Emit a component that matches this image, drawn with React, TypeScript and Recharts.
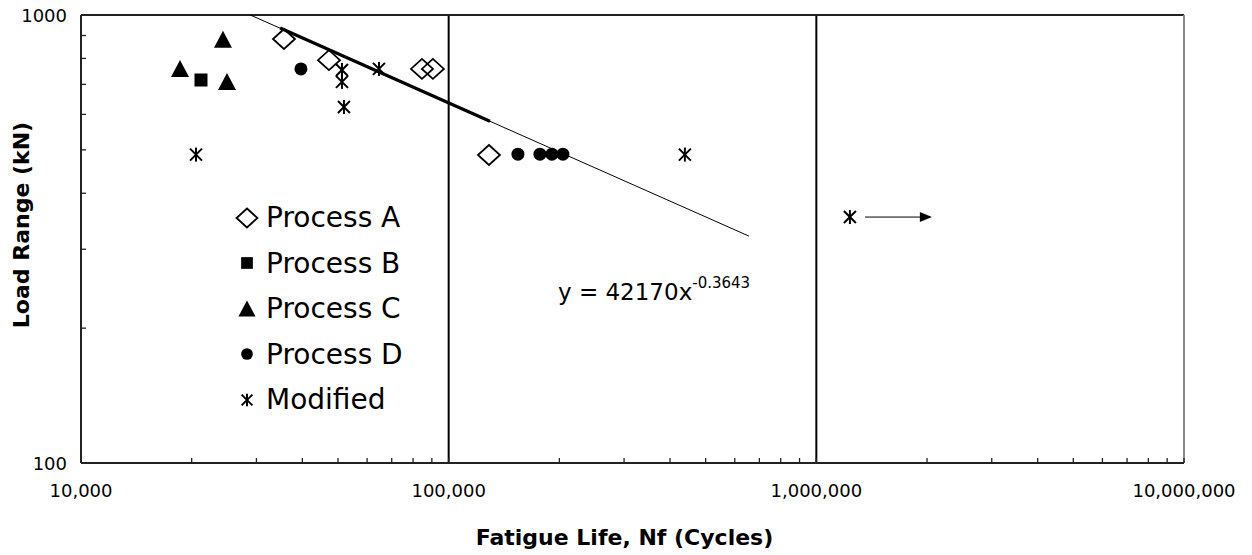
import React from 'react';
import { ScatterChart, Scatter, XAxis, YAxis, ReferenceLine, Legend } from 'recharts';

const FONT = '"DejaVu Sans", Verdana, sans-serif';

// ---- tick values ----
const xMajorTicks = [10000, 100000, 1000000, 10000000];
const xMinorTicks = [
  20000, 30000, 40000, 50000, 60000, 70000, 80000, 90000,
  200000, 300000, 400000, 500000, 600000, 700000, 800000, 900000,
  2000000, 3000000, 4000000, 5000000, 6000000, 7000000, 8000000, 9000000,
];
const yMajorTicks = [100, 1000];
const yMinorTicks = [200, 300, 400, 500, 600, 700, 800, 900];
const gridX = [100000, 1000000];

// ---- series (N = cycles, L = load range kN) ----
const processA = [
  { N: 35650, L: 884 },
  { N: 47250, L: 793 },
  { N: 84600, L: 758 },
  { N: 90600, L: 758 },
  { N: 128700, L: 487 },
];
const processB = [{ N: 21200, L: 716 }];
const processC = [
  { N: 18590, L: 758 },
  { N: 24330, L: 880 },
  { N: 24950, L: 709 },
];
const processD = [
  { N: 39650, L: 758 },
  { N: 154300, L: 489 },
  { N: 177100, L: 489 },
  { N: 190900, L: 489 },
  { N: 204500, L: 489 },
];
const modified = [
  { N: 20550, L: 488 },
  { N: 51260, L: 754 },
  { N: 51260, L: 709 },
  { N: 51900, L: 623 },
  { N: 64630, L: 758 },
  { N: 439000, L: 488 },
  { N: 1234000, L: 354 },
];
// power-law trendline endpoints
const trendLine = [
  { N: 28870, L: 1000 },
  { N: 655600, L: 321 },
];
const trendDense = [
  { N: 34800, L: 935 },
  { N: 129500, L: 579 },
];
// run-out arrow
const arrowLine = [
  { N: 1356000, L: 354 },
  { N: 1940000, L: 354 },
];
const arrowHead = [{ N: 2062000, L: 354 }];
const equationPoint = [{ N: 198300, L: 231 }];
const equationText = 'y = 42170x';
const equationExponent = '-0.3643';

const legendItems = [
  { name: 'Process A', shape: 'diamond' },
  { name: 'Process B', shape: 'square' },
  { name: 'Process C', shape: 'triangle' },
  { name: 'Process D', shape: 'circle' },
  { name: 'Modified', shape: 'star' },
];

// ---- marker drawings ----
function markerFor(kind: string, cx: number, cy: number, scale = 1) {
  const s = scale;
  if (kind === 'diamond') {
    return (
      <path
        d={`M${cx},${cy - 10 * s} L${cx + 11 * s},${cy} L${cx},${cy + 10 * s} L${cx - 11 * s},${cy} Z`}
        fill="none"
        stroke="#000"
        strokeWidth={1.8}
      />
    );
  }
  if (kind === 'square') {
    return <rect x={cx - 6.5 * s} y={cy - 6.5 * s} width={13 * s} height={13 * s} fill="#000" />;
  }
  if (kind === 'triangle') {
    return (
      <path
        d={`M${cx},${cy - 9 * s} L${cx + 9 * s},${cy + 8 * s} L${cx - 9 * s},${cy + 8 * s} Z`}
        fill="#000"
      />
    );
  }
  if (kind === 'circle') {
    return <circle cx={cx} cy={cy} r={6.5 * s} fill="#000" />;
  }
  // asterisk
  return (
    <g stroke="#000" strokeWidth={2} strokeLinecap="butt">
      <line x1={cx} y1={cy - 7 * s} x2={cx} y2={cy + 7 * s} />
      <line x1={cx - 6 * s} y1={cy - 6 * s} x2={cx + 6 * s} y2={cy + 6 * s} />
      <line x1={cx + 6 * s} y1={cy - 6 * s} x2={cx - 6 * s} y2={cy + 6 * s} />
    </g>
  );
}

const DiamondShape = (p: any) => markerFor('diamond', p.cx, p.cy);
const SquareShape = (p: any) => markerFor('square', p.cx, p.cy);
const TriangleShape = (p: any) => markerFor('triangle', p.cx, p.cy);
const CircleShape = (p: any) => markerFor('circle', p.cx, p.cy);
const StarShape = (p: any) => markerFor('star', p.cx, p.cy);
const EmptyShape = () => <g />;

const ArrowHeadShape = (p: any) => (
  <path d={`M${p.cx},${p.cy} L${p.cx - 12},${p.cy - 5} L${p.cx - 12},${p.cy + 5} Z`} fill="#000" />
);

const EquationShape = (p: any) => (
  <text x={p.cx} y={p.cy} fontFamily={FONT} fill="#000">
    <tspan fontSize={23}>{equationText}</tspan>
    <tspan fontSize={15} dy={-12}>{equationExponent}</tspan>
  </text>
);

// ---- ticks ----
const XTick = (props: any) => {
  const { x, y, payload } = props;
  const v = payload.value;
  const major = xMajorTicks.includes(v);
  return (
    <g>
      <line x1={x} x2={x} y1={y} y2={y - 5} stroke="#222" strokeWidth={1.3} />
      {major && (
        <text x={x} y={y + 34} textAnchor="middle" fontSize={18} fontFamily={FONT} fill="#000">
          {Number(v).toLocaleString('en-US')}
        </text>
      )}
    </g>
  );
};

const YTick = (props: any) => {
  const { x, y, payload } = props;
  const v = payload.value;
  const major = yMajorTicks.includes(v);
  return (
    <g>
      <line x1={x} x2={x + 5} y1={y} y2={y} stroke="#222" strokeWidth={1.3} />
      {major && (
        <text x={x - 14} y={y + 6.5} textAnchor="end" fontSize={18} fontFamily={FONT} fill="#000">
          {String(v)}
        </text>
      )}
    </g>
  );
};

const XTitle = (props: any) => {
  const vb = props.viewBox || { x: 81, y: 463, width: 1103, height: 92 };
  return (
    <text
      x={vb.x + vb.width / 2 - 8}
      y={vb.y + 82}
      textAnchor="middle"
      fontSize={22}
      fontWeight="bold"
      fontFamily={FONT}
      fill="#000"
    >
      Fatigue Life, Nf (Cycles)
    </text>
  );
};

const YTitle = (props: any) => {
  const vb = props.viewBox || { x: 0, y: 15, width: 81, height: 448 };
  const cx = 21;
  const cy = vb.y + vb.height / 2 - 14;
  return (
    <text
      x={cx}
      y={cy}
      dy="0.36em"
      textAnchor="middle"
      transform={`rotate(-90, ${cx}, ${cy})`}
      fontSize={22}
      fontWeight="bold"
      fontFamily={FONT}
      fill="#000"
    >
      Load Range (kN)
    </text>
  );
};

const legendScale: Record<string, number> = { diamond: 0.95, square: 0.9, triangle: 0.95, circle: 0.9, star: 0.9 };

const LegendContent = () => (
  <div style={{ fontFamily: FONT, fontSize: 28, color: '#000' }}>
    {legendItems.map((it) => (
      <div key={it.name} style={{ display: 'flex', alignItems: 'center', height: 45.5, lineHeight: '45.5px' }}>
        <svg width={30} height={30} style={{ display: 'block' }}>
          {markerFor(it.shape, 15, 15, legendScale[it.shape])}
        </svg>
        <span style={{ marginLeft: 4, whiteSpace: 'nowrap' }}>{it.name}</span>
      </div>
    ))}
  </div>
);

export default function App() {
  return (
    <div style={{ position: 'absolute', left: 0, top: 0, width: 1252, height: 555, background: '#fff' }}>
      <ScatterChart width={1252} height={555} margin={{ top: 15, right: 68, bottom: 0, left: 0 }}>
        <XAxis
          type="number"
          dataKey="N"
          scale="log"
          domain={[10000, 10000000]}
          allowDataOverflow
          ticks={[...xMajorTicks, ...xMinorTicks]}
          interval={0}
          tick={<XTick />}
          tickLine={false}
          tickSize={0}
          tickMargin={0}
          height={92}
          axisLine={{ stroke: '#222', strokeWidth: 2 }}
          label={<XTitle />}
        />
        <YAxis
          type="number"
          dataKey="L"
          scale="log"
          domain={[100, 1000]}
          allowDataOverflow
          ticks={[...yMajorTicks, ...yMinorTicks]}
          interval={0}
          tick={<YTick />}
          tickLine={false}
          tickSize={0}
          tickMargin={0}
          width={81}
          axisLine={{ stroke: '#222', strokeWidth: 2 }}
          label={<YTitle />}
        />
        {gridX.map((g) => (
          <ReferenceLine key={g} x={g} stroke="#000" strokeWidth={2} />
        ))}
        <ReferenceLine y={1000} stroke="#222" strokeWidth={2} />
        <ReferenceLine x={10000000} stroke="#888" strokeWidth={2} />

        <Scatter name="trend" data={trendLine} line={{ stroke: '#000', strokeWidth: 1 }} shape={EmptyShape} isAnimationActive={false} legendType="none" />
        <Scatter name="trendDense" data={trendDense} line={{ stroke: '#000', strokeWidth: 3.2 }} shape={EmptyShape} isAnimationActive={false} legendType="none" />

        <Scatter name="Process A" data={processA} shape={DiamondShape} isAnimationActive={false} />
        <Scatter name="Process B" data={processB} shape={SquareShape} isAnimationActive={false} />
        <Scatter name="Process C" data={processC} shape={TriangleShape} isAnimationActive={false} />
        <Scatter name="Process D" data={processD} shape={CircleShape} isAnimationActive={false} />
        <Scatter name="Modified" data={modified} shape={StarShape} isAnimationActive={false} />

        <Scatter name="arrow" data={arrowLine} line={{ stroke: '#000', strokeWidth: 1 }} shape={EmptyShape} isAnimationActive={false} legendType="none" />
        <Scatter name="arrowHead" data={arrowHead} shape={ArrowHeadShape} isAnimationActive={false} legendType="none" />
        <Scatter name="equation" data={equationPoint} shape={EquationShape} isAnimationActive={false} legendType="none" />

        <Legend
          layout="vertical"
          align="center"
          verticalAlign="middle"
          content={<LegendContent />}
          wrapperStyle={{ left: 232, top: 195, width: 220, height: 230 }}
        />
      </ScatterChart>
    </div>
  );
}
